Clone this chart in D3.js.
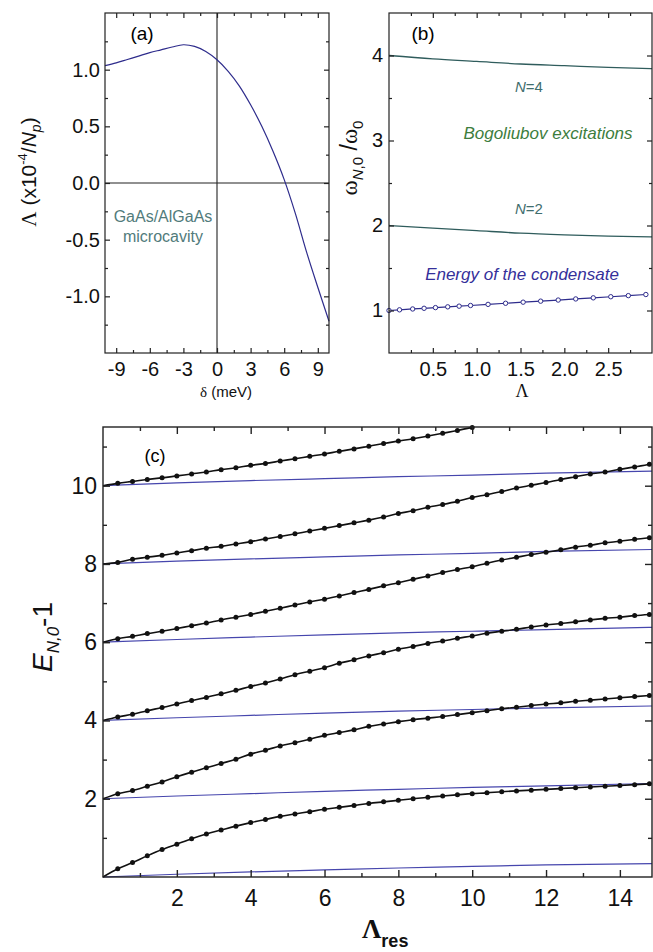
<!DOCTYPE html>
<html>
<head>
<meta charset="utf-8">
<script src="https://cdn.jsdelivr.net/npm/d3@7"></script>
<style>
  body { margin: 0; background: #fff; }
</style>
</head>
<body>
<div id="chart"></div>
<script>
// ---- panel (a): interaction constant vs detuning
var aDelta  = [-10, -9, -8, -7, -6, -5, -4, -3, -2, -1, 0, 1, 2, 3, 4, 5, 6, 7, 8, 9, 10];
var aLambda = [1.035, 1.06, 1.09, 1.12, 1.15, 1.175, 1.20, 1.22, 1.205, 1.16, 1.087, 0.985, 0.855, 0.69, 0.50, 0.28, 0.03, -0.27, -0.61, -0.92, -1.22];
var aXTicks = [-9, -6, -3, 0, 3, 6, 9];
var aXMinor = [-7.5, -4.5, -1.5, 1.5, 4.5, 7.5];
var aYTicks = [-1, -0.5, 0, 0.5, 1];
var aYMinor = [-1.25, -0.75, -0.25, 0.25, 0.75, 1.25];

// ---- panel (b): frequencies vs Lambda
var bLambda = [0, 0.5, 1, 1.5, 2, 2.5, 3];
var bN4     = [4.0, 3.96, 3.93, 3.90, 3.88, 3.86, 3.845];
var bN2     = [2.0, 1.97, 1.94, 1.91, 1.89, 1.875, 1.865];
var bCondX  = [0, 0.12, 0.27, 0.4, 0.53, 0.67, 0.8, 0.93, 1.13, 1.33, 1.53, 1.73, 1.93, 2.13, 2.33, 2.53, 2.73, 2.93];
var bCondY  = [1.0, 1.008, 1.018, 1.026, 1.034, 1.043, 1.051, 1.059, 1.072, 1.085, 1.098, 1.11, 1.123, 1.136, 1.149, 1.162, 1.175, 1.188];
var bXTicks = [0.5, 1.0, 1.5, 2.0, 2.5];
var bXMinor = [0.25, 0.75, 1.25, 1.75, 2.25, 2.75];
var bYTicks = [1, 2, 3, 4];
var bYMinor = [1.5, 2.5, 3.5];

// ---- panel (c): energies vs Lambda_res
var cX  = [0, 0.4, 0.8, 1.2, 1.6, 2.0, 2.4, 2.8, 3.2, 3.6, 4.0, 4.4, 4.8, 5.2, 5.6, 6.0, 6.4, 6.8, 7.2, 7.6,
           8.0, 8.4, 8.8, 9.2, 9.6, 10.0, 10.4, 10.8, 11.2, 11.6, 12.0, 12.4, 12.8, 13.2, 13.6, 14.0, 14.4, 14.8];
var cE0 = [0, 0.21, 0.37, 0.54, 0.70, 0.84, 0.98, 1.10, 1.20, 1.30, 1.39, 1.47, 1.55, 1.61, 1.67, 1.73, 1.78, 1.83, 1.88, 1.92,
           1.96, 2.00, 2.04, 2.07, 2.10, 2.13, 2.15, 2.18, 2.20, 2.22, 2.24, 2.26, 2.28, 2.30, 2.32, 2.34, 2.36, 2.38];
var cE1 = [2, 2.13, 2.21, 2.32, 2.43, 2.56, 2.68, 2.79, 2.90, 3.01, 3.14, 3.24, 3.35, 3.43, 3.52, 3.62, 3.69, 3.76, 3.85, 3.91,
           3.97, 4.02, 4.06, 4.10, 4.15, 4.20, 4.25, 4.30, 4.34, 4.38, 4.42, 4.45, 4.49, 4.52, 4.55, 4.58, 4.61, 4.64];
var cE2 = [4, 4.09, 4.16, 4.25, 4.33, 4.42, 4.51, 4.59, 4.68, 4.77, 4.87, 4.96, 5.06, 5.17, 5.26, 5.35, 5.46, 5.55, 5.65, 5.73,
           5.82, 5.89, 5.97, 6.03, 6.10, 6.16, 6.23, 6.28, 6.33, 6.39, 6.44, 6.48, 6.52, 6.57, 6.61, 6.64, 6.68, 6.71];
var cE3 = [6, 6.09, 6.15, 6.22, 6.28, 6.35, 6.42, 6.49, 6.57, 6.64, 6.71, 6.79, 6.87, 6.95, 7.03, 7.10, 7.18, 7.27, 7.35, 7.44,
           7.52, 7.61, 7.69, 7.78, 7.86, 7.93, 8.02, 8.10, 8.17, 8.24, 8.30, 8.36, 8.43, 8.48, 8.54, 8.58, 8.63, 8.67];
var cE4 = [8, 8.04, 8.12, 8.17, 8.22, 8.28, 8.34, 8.40, 8.45, 8.51, 8.57, 8.64, 8.70, 8.77, 8.84, 8.91, 8.98, 9.05, 9.12, 9.20,
           9.29, 9.36, 9.45, 9.52, 9.60, 9.70, 9.77, 9.85, 9.94, 10.01, 10.08, 10.16, 10.23, 10.30, 10.35, 10.42, 10.48, 10.55];
var cE5 = [10, 10.06, 10.11, 10.16, 10.20, 10.25, 10.30, 10.35, 10.41, 10.46, 10.52, 10.57, 10.63, 10.69, 10.75, 10.81,
           10.88, 10.94, 11.01, 11.08, 11.14, 11.20, 11.27, 11.34, 11.41, 11.49];
var cBlueX = [0, 2, 4, 6, 8, 10, 12, 14.87];
var cB0 = [0, 0.07, 0.13, 0.18, 0.23, 0.27, 0.31, 0.34];
var cB1 = [2, 2.07, 2.13, 2.19, 2.24, 2.29, 2.33, 2.39];
var cB2 = [4, 4.07, 4.13, 4.19, 4.24, 4.28, 4.32, 4.37];
var cB3 = [6, 6.07, 6.13, 6.19, 6.24, 6.28, 6.32, 6.38];
var cB4 = [8, 8.07, 8.13, 8.18, 8.23, 8.27, 8.32, 8.37];
var cB5 = [10, 10.07, 10.13, 10.18, 10.23, 10.27, 10.32, 10.37];
var cXTicks = [2, 4, 6, 8, 10, 12, 14];
var cXMinor = [1, 3, 5, 7, 9, 11, 13];
var cYTicks = [2, 4, 6, 8, 10];
var cYMinor = [1, 3, 5, 7, 9, 11];

var SANS = '"Liberation Sans", Arial, sans-serif';
var SERIF = '"Liberation Serif", "Times New Roman", serif';

var svg = d3.select('#chart').append('svg')
    .attr('width', 653)
    .attr('height', 952)
    .attr('font-family', SANS);

// box with inward ticks on all four sides
function frame(x, y, o) {
  var x0 = x.range()[0], x1 = x.range()[1], y0 = y.range()[0], y1 = y.range()[1];
  var g = svg.append('g');
  function put(axis, tr, vals, size, fmt, pad) {
    var a = g.append('g').attr('transform', tr)
      .call(axis.tickValues(vals).tickSize(-size).tickSizeOuter(0).tickPadding(pad || 0).tickFormat(fmt || ''));
    a.select('.domain').remove();
    a.attr('font-family', SANS).attr('font-size', o.fs);
    a.selectAll('line').attr('stroke', '#222').attr('stroke-width', o.sw);
    a.selectAll('text').attr('fill', '#111');
  }
  put(d3.axisBottom(x), 'translate(0,' + y0 + ')', o.xt, o.maj, o.xf, o.px);
  put(d3.axisBottom(x), 'translate(0,' + y0 + ')', o.xm, o.min);
  put(d3.axisTop(x), 'translate(0,' + y1 + ')', o.xt, o.maj);
  put(d3.axisTop(x), 'translate(0,' + y1 + ')', o.xm, o.min);
  put(d3.axisLeft(y), 'translate(' + x0 + ',0)', o.yt, o.maj, o.yf, o.py);
  put(d3.axisLeft(y), 'translate(' + x0 + ',0)', o.ym, o.min);
  put(d3.axisRight(y), 'translate(' + x1 + ',0)', o.yt, o.maj);
  put(d3.axisRight(y), 'translate(' + x1 + ',0)', o.ym, o.min);
  g.append('rect')
    .attr('x', x0).attr('y', y1).attr('width', x1 - x0).attr('height', y0 - y1)
    .attr('fill', 'none').attr('stroke', '#222').attr('stroke-width', o.sw);
}

function zip(xs, ys) { return ys.map(function(v, i) { return [xs[i], v]; }); }

// ================= panel (a)
var xa = d3.scaleLinear().domain([-10, 10]).range([105, 329]);
var ya = d3.scaleLinear().domain([-1.5, 1.5]).range([353, 13]);

svg.append('line').attr('x1', xa(0)).attr('x2', xa(0)).attr('y1', ya(1.5)).attr('y2', ya(-1.5))
   .attr('stroke', '#222').attr('stroke-width', 1.1);
svg.append('line').attr('x1', xa(-10)).attr('x2', xa(10)).attr('y1', ya(0)).attr('y2', ya(0))
   .attr('stroke', '#222').attr('stroke-width', 1.1);

svg.append('path')
   .datum(zip(aDelta, aLambda))
   .attr('fill', 'none').attr('stroke', '#2e2c8c').attr('stroke-width', 1.2)
   .attr('d', d3.line().x(function(d) { return xa(d[0]); }).y(function(d) { return ya(d[1]); }).curve(d3.curveCatmullRom.alpha(0.5)));

frame(xa, ya, {xt: aXTicks, xm: aXMinor, yt: aYTicks, ym: aYMinor, maj: 5, min: 3, sw: 1.2, fs: 20, px: 9, py: 5,
               xf: function(d) { return String(d); }, yf: function(d) { return d.toFixed(1); }});

svg.append('text').attr('x', 142).attr('y', 40).attr('text-anchor', 'middle').attr('font-size', 19).text('(a)');
svg.append('text').attr('x', 163).attr('y', 222).attr('text-anchor', 'middle').attr('font-size', 16)
   .attr('fill', '#517b7b').text('GaAs/AlGaAs');
svg.append('text').attr('x', 163).attr('y', 242).attr('text-anchor', 'middle').attr('font-size', 16)
   .attr('fill', '#517b7b').text('microcavity');

var ayl = svg.append('text').attr('transform', 'translate(36,172) rotate(-90)')
   .attr('text-anchor', 'middle').attr('font-size', 21).attr('fill', '#111');
ayl.append('tspan').attr('font-family', SERIF).attr('font-size', 21).text('\u039b');
ayl.append('tspan').text(' (x10');
ayl.append('tspan').attr('font-size', 13).attr('dy', -9).text('-4');
ayl.append('tspan').attr('dy', 9).text('/');
ayl.append('tspan').attr('font-style', 'italic').text('N');
ayl.append('tspan').attr('font-style', 'italic').attr('font-size', 14).attr('dy', 5).text('p');
ayl.append('tspan').attr('dy', -5).text(')');

var axl = svg.append('text').attr('x', 226).attr('y', 397).attr('text-anchor', 'middle').attr('font-size', 15).attr('fill', '#111');
axl.append('tspan').attr('font-family', SERIF).text('\u03b4');
axl.append('tspan').text(' (meV)');

// ================= panel (b)
var xb = d3.scaleLinear().domain([0, 3]).range([389, 652]);
var yb = d3.scaleLinear().domain([0.5, 4.5]).range([353, 13]);
var lineB = d3.line().x(function(d) { return xb(d[0]); }).y(function(d) { return yb(d[1]); }).curve(d3.curveMonotoneX);

[bN4, bN2].forEach(function(s) {
  svg.append('path').datum(zip(bLambda, s))
     .attr('fill', 'none').attr('stroke', '#2f5c5c').attr('stroke-width', 1.3).attr('d', lineB);
});
svg.append('path').datum(zip(bCondX, bCondY))
   .attr('fill', 'none').attr('stroke', '#2e2c8c').attr('stroke-width', 1.2)
   .attr('d', d3.line().x(function(d) { return xb(d[0]); }).y(function(d) { return yb(d[1]); }));
svg.selectAll('.cond').data(zip(bCondX, bCondY)).enter().append('circle')
   .attr('class', 'cond')
   .attr('cx', function(d) { return xb(d[0]); }).attr('cy', function(d) { return yb(d[1]); })
   .attr('r', 2.2).attr('fill', '#fff').attr('stroke', '#2e2c8c').attr('stroke-width', 1);

frame(xb, yb, {xt: bXTicks, xm: bXMinor, yt: bYTicks, ym: bYMinor, maj: 5, min: 3, sw: 1.2, fs: 20, px: 9, py: 6,
               xf: function(d) { return d.toFixed(1); }, yf: function(d) { return String(d); }});

svg.append('text').attr('x', 423).attr('y', 40).attr('text-anchor', 'middle').attr('font-size', 19).text('(b)');
[['N', '=4', 92], ['N', '=2', 214]].forEach(function(t) {
  var tx = svg.append('text').attr('x', 529).attr('y', t[2]).attr('text-anchor', 'middle')
     .attr('font-size', 15).attr('fill', '#3f6e6e');
  tx.append('tspan').attr('font-style', 'italic').text(t[0]);
  tx.append('tspan').text(t[1]);
});
svg.append('text').attr('x', 548).attr('y', 139).attr('text-anchor', 'middle').attr('font-size', 17)
   .attr('font-style', 'italic').attr('fill', '#3d7d3d').text('Bogoliubov excitations');
svg.append('text').attr('x', 522).attr('y', 280).attr('text-anchor', 'middle').attr('font-size', 17)
   .attr('font-style', 'italic').attr('fill', '#35309a').text('Energy of the condensate');

var byl = svg.append('text').attr('transform', 'translate(357,158) rotate(-90)')
   .attr('text-anchor', 'middle').attr('font-size', 23).attr('fill', '#111');
byl.append('tspan').attr('font-family', SERIF).text('\u03c9');
byl.append('tspan').attr('font-size', 15).attr('dy', 6).attr('font-style', 'italic').text('N');
byl.append('tspan').attr('font-size', 15).text(',0');
byl.append('tspan').attr('dy', -6).text(' /');
byl.append('tspan').attr('font-family', SERIF).text('\u03c9');
byl.append('tspan').attr('font-size', 15).attr('dy', 6).text('0');

svg.append('text').attr('x', 522).attr('y', 397).attr('text-anchor', 'middle').attr('font-size', 18)
   .attr('font-family', SERIF).attr('fill', '#111').text('\u039b');

// ================= panel (c)
var xc = d3.scaleLinear().domain([0, 14.87]).range([103, 652]);
var yc = d3.scaleLinear().domain([0, 11.5]).range([877, 427]);
var lineC = d3.line().x(function(d) { return xc(d[0]); }).y(function(d) { return yc(d[1]); }).curve(d3.curveMonotoneX);

[cB0, cB1, cB2, cB3, cB4, cB5].forEach(function(s) {
  svg.append('path').datum(zip(cBlueX, s))
     .attr('fill', 'none').attr('stroke', '#4646ad').attr('stroke-width', 1.2).attr('d', lineC);
});
[cE0, cE1, cE2, cE3, cE4, cE5].forEach(function(s, k) {
  var pts = zip(cX, s);
  svg.append('path').datum(pts)
     .attr('fill', 'none').attr('stroke', '#111').attr('stroke-width', 1.6).attr('d', lineC);
  svg.selectAll('.dot' + k).data(pts.slice(1)).enter().append('circle')
     .attr('class', 'dot' + k)
     .attr('cx', function(d) { return xc(d[0]); }).attr('cy', function(d) { return yc(d[1]); })
     .attr('r', 2.5).attr('fill', '#111');
});

frame(xc, yc, {xt: cXTicks, xm: cXMinor, yt: cYTicks, ym: cYMinor, maj: 7, min: 4, sw: 1.4, fs: 23, px: 13, py: 6,
               xf: function(d) { return String(d); }, yf: function(d) { return String(d); }});

svg.append('text').attr('x', 155).attr('y', 462).attr('text-anchor', 'middle').attr('font-size', 18).text('(c)');

var cyl = svg.append('text').attr('transform', 'translate(52,637) rotate(-90)')
   .attr('text-anchor', 'middle').attr('font-size', 28).attr('fill', '#111');
cyl.append('tspan').attr('font-style', 'italic').text('E');
cyl.append('tspan').attr('font-style', 'italic').attr('font-size', 17).attr('dy', 7).text('N,0');
cyl.append('tspan').attr('dy', -7).text('-1');

var cxl = svg.append('text').attr('x', 362).attr('y', 938).attr('fill', '#111').attr('font-weight', 'bold');
cxl.append('tspan').attr('font-family', SERIF).attr('font-size', 27).text('\u039b');
cxl.append('tspan').attr('font-size', 18).attr('dy', 9).text('res');
</script>
</body>
</html>
